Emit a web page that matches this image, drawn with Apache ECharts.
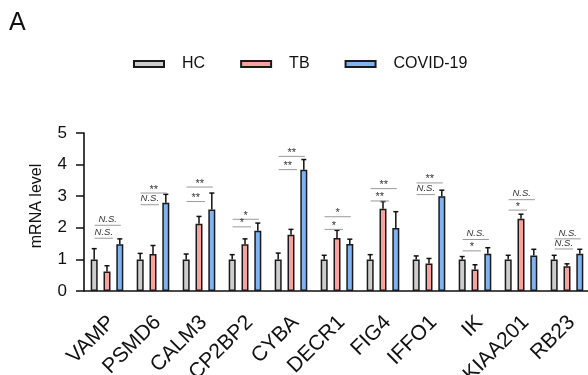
<!DOCTYPE html>
<html>
<head>
<meta charset="utf-8">
<script src="https://cdn.jsdelivr.net/npm/echarts@6/dist/echarts.min.js"></script>
<style>html,body{margin:0;padding:0;background:#fff}#c{width:588px;height:375px}</style>
</head>
<body>
<div id="c"></div>
<script>
const categories = ['VAMP','PSMD6','CALM3','CP2BP2','CYBA','DECR1','FIG4','IFFO1','IK','KIAA201','RB23'];
const hc       = [1.00,1.00,1.00,1.00,1.00,1.00,1.00,1.00,1.00,1.00,1.00];
const hcErr    = [0.34,0.19,0.17,0.15,0.20,0.13,0.15,0.11,0.09,0.13,0.13];
const tb       = [0.62,1.17,2.13,1.48,1.78,1.68,2.60,0.87,0.68,2.29,0.78];
const tbErr    = [0.18,0.27,0.23,0.17,0.17,0.24,0.23,0.16,0.15,0.14,0.08];
const covid    = [1.48,2.79,2.58,1.91,3.84,1.49,1.99,3.00,1.18,1.12,1.18];
const covidErr = [0.17,0.27,0.52,0.24,0.32,0.15,0.52,0.19,0.19,0.20,0.14];
// significance brackets: HC vs COVID-19 (upper) and HC vs TB (lower)
const upperLevel = [2.08,3.10,3.29,2.27,4.26,2.35,3.24,3.42,1.63,2.89,1.65];
const upperLabel = ['N.S.','**','**','*','**','*','**','**','N.S.','N.S.','N.S.'];
const lowerLevel = [1.67,2.73,2.83,2.03,3.84,1.95,2.85,3.05,1.27,2.56,1.33];
const lowerLabel = ['N.S.','N.S.','**','*','**','*','**','N.S.','*','*','N.S.'];
const yTicks = [0,1,2,3,4,5];

const FONT = "'Liberation Sans', Arial, sans-serif";
const BAR_W = 7, BAR_GAP = 0.83, BAR_STEP = BAR_W * (1 + BAR_GAP);

function errRender(k) {
  return function (params, api) {
    const x = api.value(0), v = api.value(1), e = api.value(2);
    const p0 = api.coord([x, v]), p1 = api.coord([x, v + e]);
    const cx = p0[0] + k * BAR_STEP;
    const st = {stroke: '#111', lineWidth: 1.5};
    return {type: 'group', children: [
      {type: 'line', shape: {x1: cx, y1: p0[1], x2: cx, y2: p1[1]}, style: st},
      {type: 'line', shape: {x1: cx - 2.5, y1: p1[1], x2: cx + 2.5, y2: p1[1]}, style: st}
    ]};
  };
}
function sigRender(labels, endFrac) {
  return function (params, api) {
    const x = api.value(0), lv = api.value(1);
    const p = api.coord([x, lv]);
    const bw = api.size([1, 0])[0];
    const x1 = p[0] - 0.27 * bw, x2 = p[0] + endFrac * bw;
    const lab = labels[params.dataIndex];
    const ns = lab === 'N.S.';
    return {type: 'group', children: [
      {type: 'line', shape: {x1: x1, y1: p[1], x2: x2, y2: p[1]}, style: {stroke: '#9a9a9a', lineWidth: 1}},
      {type: 'text', x: (x1 + x2) / 2, y: p[1] - (ns ? 6 : 3.5), style: {
        text: lab, fill: '#333', fontFamily: FONT, fontSize: ns ? 9.5 : 11,
        fontStyle: ns ? 'italic' : 'normal', align: 'center', verticalAlign: 'middle'}}
    ]};
  };
}
function bar(name, data, color) {
  return {name: name, type: 'bar', data: data, barWidth: BAR_W, barGap: (BAR_GAP * 100) + '%',
    itemStyle: {color: color, borderColor: '#1a1a1a', borderWidth: 1.5}, z: 2};
}
function errSeries(vals, errs, k) {
  return {type: 'custom', renderItem: errRender(k), data: vals.map((v, i) => [i, v, errs[i]]), z: 3, silent: true};
}
function sigSeries(levels, labels, endFrac) {
  return {type: 'custom', renderItem: sigRender(labels, endFrac), data: levels.map((v, i) => [i, v]), z: 4, silent: true};
}

const chart = echarts.init(document.getElementById('c'), null, {renderer: 'canvas'});
chart.setOption({
  animation: false,
  backgroundColor: '#fff',
  title: {text: 'A', left: 9, top: 11, padding: 0, textStyle: {fontFamily: FONT, fontSize: 25, fontWeight: 'normal', color: '#111'}},
  legend: {
    data: ['HC', 'TB', 'COVID-19'], icon: 'rect', left: 133, top: 56, padding: 0,
    itemWidth: 30, itemHeight: 6, itemGap: 35,
    textStyle: {fontFamily: FONT, fontSize: 16, color: '#111', padding: [0, 0, 0, 13]}
  },
  grid: {left: 84, right: -2, top: 133, bottom: 84, containLabel: false, outerBoundsMode: 'none'},
  xAxis: {
    type: 'category', data: categories,
    axisLine: {lineStyle: {color: '#111', width: 1.6}},
    axisTick: {alignWithLabel: true, length: 11, lineStyle: {color: '#111', width: 1.5}},
    axisLabel: {rotate: 45, margin: 18, interval: 0, align: 'right', verticalAlign: 'top',
      padding: [0, 4, 0, 0], fontFamily: FONT, fontSize: 21, color: '#111'}
  },
  yAxis: {
    type: 'value', min: yTicks[0], max: yTicks[yTicks.length - 1], interval: 1,
    name: 'mRNA level', nameLocation: 'middle', nameGap: 39, nameRotate: 90,
    nameTextStyle: {fontFamily: FONT, fontSize: 16, color: '#111', padding: [0, 0, 0, 12]},
    axisLine: {show: true, lineStyle: {color: '#111', width: 1.6}},
    axisTick: {show: true, length: 8, lineStyle: {color: '#111', width: 1.5}},
    axisLabel: {margin: 17, fontFamily: FONT, fontSize: 17, color: '#111'},
    splitLine: {show: false}
  },
  series: [
    bar('HC', hc, '#cdcdcd'),
    bar('TB', tb, '#f7a29e'),
    bar('COVID-19', covid, '#7fb3f2'),
    errSeries(hc, hcErr, -1),
    errSeries(tb, tbErr, 0),
    errSeries(covid, covidErr, 1),
    sigSeries(upperLevel, upperLabel, 0.30),
    sigSeries(lowerLevel, lowerLabel, 0.13)
  ]
});
</script>
</body>
</html>
